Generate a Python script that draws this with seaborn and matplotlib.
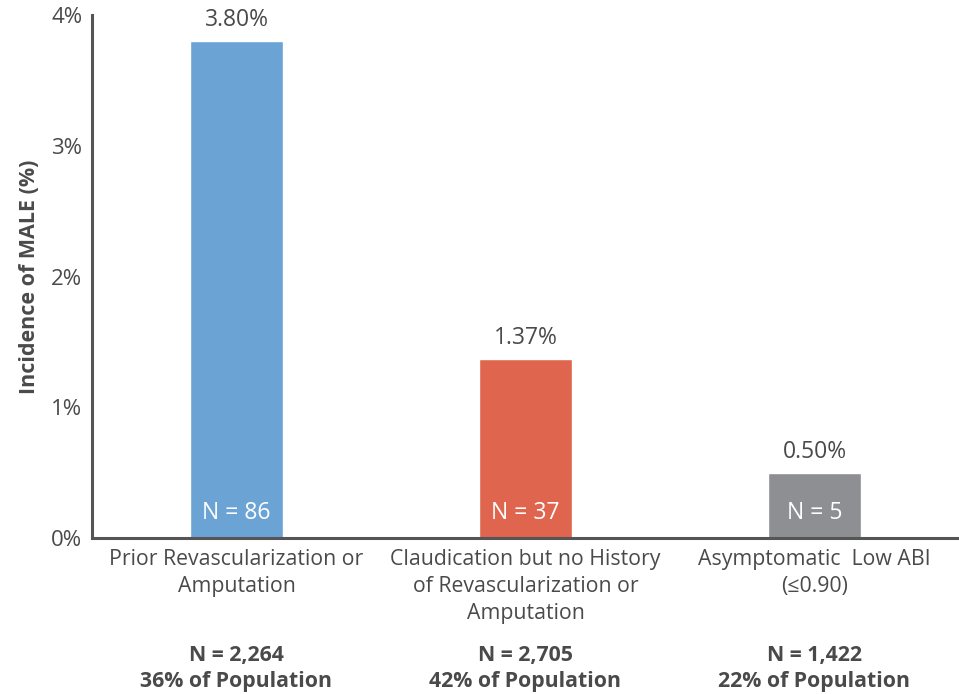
import matplotlib
matplotlib.use("Agg")
import matplotlib.pyplot as plt
import matplotlib.transforms as mtransforms
import seaborn as sns
import pandas as pd

categories = ["Prior Revascularization or\nAmputation",
              "Claudication but no History\nof Revascularization or\nAmputation",
              "Asymptomatic  Low ABI\n(\u22640.90)"]
incidence = [3.80, 1.37, 0.50]
events = ["N = 86", "N = 37", "N = 5"]
group_n = ["N = 2,264", "N = 2,705", "N = 1,422"]
group_pct = ["36% of Population", "42% of Population", "22% of Population"]
colors = ["#6ca3d5", "#e0654f", "#8e8f93"]
yticks = [0, 1, 2, 3, 4]
ytick_labels = ["0%", "1%", "2%", "3%", "4%"]

sns.set_style("white")
plt.rcParams["font.family"] = ["Open Sans", "DejaVu Sans"]
text_color = "#4a4a4a"

df = pd.DataFrame({"cat": categories, "val": incidence})

fig = plt.figure(figsize=(9.59, 6.94), dpi=100)
ax = fig.add_axes([0.0959, 0.2248, 0.9041, 0.7532])
sns.barplot(data=df, x="cat", y="val", hue="cat", palette=colors,
            width=0.32, saturation=1, legend=False, ax=ax)

ax.set_xlim(-0.5, 2.5)
ax.set_ylim(0, 4)
ax.set_yticks(yticks)
ax.set_yticklabels(ytick_labels, fontsize=16, color=text_color)
ax.set_xticks(range(len(categories)))
ax.set_xticklabels(categories, fontsize=15.3, color=text_color, linespacing=1.38)
ax.tick_params(axis="both", length=0)
ax.tick_params(axis="y", pad=7)
ax.tick_params(axis="x", pad=8)
ax.set_xlabel("")
ax.set_ylabel("Incidence of MALE (%)", fontsize=15.5, fontweight="bold",
              color=text_color, labelpad=8)

for s in ["top", "right"]:
    ax.spines[s].set_visible(False)
for s in ["left", "bottom"]:
    ax.spines[s].set_color("#555555")
    ax.spines[s].set_linewidth(2.2)

for i, v in enumerate(incidence):
    ax.text(i, v + 0.07, f"{v:.2f}%", ha="center", va="bottom",
            fontsize=16.5, color=text_color)
    ax.text(i, 0.1, events[i], ha="center", va="bottom",
            fontsize=16.5, color="white")

trans = mtransforms.blended_transform_factory(ax.transData, fig.transFigure)
for i in range(len(categories)):
    ax.text(i, 1 - 655 / 694, group_n[i], transform=trans, ha="center",
            va="center", fontsize=15.3, fontweight="bold", color=text_color)
    ax.text(i, 1 - 682 / 694, group_pct[i], transform=trans, ha="center",
            va="center", fontsize=15.3, fontweight="bold", color=text_color)

fig.savefig("out.png", dpi=100)
